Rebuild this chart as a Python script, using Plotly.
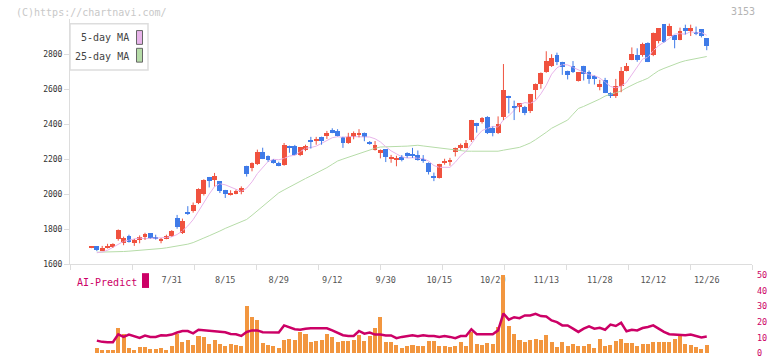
import plotly.graph_objects as go

W, H = 772, 361

# ---------------- data ----------------
tick_labels = ["7/31", "8/15", "8/29", "9/12", "9/30", "10/15", "10/29",
               "11/13", "11/28", "12/12", "12/26"]
tick_index = [15, 25, 35, 45, 55, 65, 75, 85, 95, 105, 115]

opens = [1694, 1701, 1680, 1692, 1696, 1742, 1718, 1763, 1720, 1737,
         1752, 1775, 1756, 1730, 1746, 1763, 1865, 1775, 1899, 1903,
         1951, 2000, 2096, 2079, 2073, 2023, 1996, 2002, 2011, 2161,
         2148, 2169, 2242, 2220, 2197, 2180, 2165, 2276, 2272, 2225,
         2254, 2311, 2305, 2327, 2334, 2366, 2362, 2327, 2290, 2325,
         2342, 2351, 2294, 2254, 2235, 2256, 2203, 2198, 2211, 2233,
         2224, 2225, 2203, 2180, 2101, 2092, 2175, 2186, 2239, 2265,
         2265, 2306, 2406, 2411, 2439, 2377, 2346, 2441, 2558, 2501,
         2496, 2496, 2473, 2592, 2629, 2696, 2729, 2797, 2755, 2704,
         2732, 2648, 2732, 2696, 2676, 2617, 2654, 2580, 2558, 2617,
         2704, 2768, 2795, 2792, 2862, 2797, 2876, 2969, 2905, 2907,
         2882, 2947, 2930, 2924, 2941, 2890]
highs = [1699, 1703, 1705, 1717, 1720, 1799, 1758, 1769, 1745, 1765,
         1780, 1777, 1769, 1750, 1769, 1795, 1882, 1861, 1932, 1953,
         2034, 2086, 2099, 2122, 2075, 2025, 2023, 2026, 2045, 2163,
         2182, 2255, 2266, 2222, 2200, 2186, 2293, 2278, 2282, 2268,
         2283, 2328, 2328, 2329, 2362, 2377, 2372, 2329, 2351, 2359,
         2372, 2353, 2304, 2304, 2256, 2258, 2225, 2220, 2224, 2240,
         2265, 2250, 2224, 2182, 2124, 2174, 2203, 2208, 2267, 2290,
         2310, 2425, 2408, 2441, 2446, 2387, 2445, 2744, 2563, 2535,
         2520, 2505, 2573, 2633, 2696, 2817, 2800, 2809, 2757, 2706,
         2761, 2698, 2734, 2707, 2678, 2654, 2665, 2582, 2659, 2727,
         2750, 2839, 2834, 2866, 2868, 2924, 2949, 2971, 2975, 2909,
         2952, 2969, 2969, 2958, 2943, 2892]
lows = [1692, 1675, 1678, 1690, 1694, 1735, 1709, 1724, 1705, 1720,
        1739, 1747, 1741, 1720, 1743, 1758, 1803, 1773, 1882, 1895,
        1944, 1993, 2039, 2045, 2007, 1979, 1993, 2000, 2000, 2101,
        2131, 2167, 2201, 2186, 2175, 2160, 2163, 2237, 2223, 2218,
        2246, 2261, 2283, 2283, 2316, 2349, 2331, 2265, 2288, 2314,
        2325, 2303, 2283, 2250, 2205, 2184, 2180, 2160, 2188, 2208,
        2208, 2192, 2180, 2113, 2075, 2090, 2169, 2163, 2216, 2254,
        2263, 2299, 2352, 2404, 2344, 2331, 2344, 2424, 2462, 2424,
        2469, 2452, 2464, 2543, 2603, 2694, 2727, 2738, 2682, 2656,
        2693, 2644, 2650, 2631, 2627, 2594, 2578, 2550, 2550, 2583,
        2702, 2766, 2757, 2786, 2755, 2789, 2862, 2866, 2903, 2834,
        2880, 2913, 2904, 2909, 2896, 2823]
closes = [1698, 1680, 1690, 1703, 1717, 1797, 1747, 1726, 1735, 1752,
          1769, 1749, 1743, 1743, 1760, 1788, 1814, 1848, 1887, 1938,
          2028, 2079, 2073, 2101, 2017, 2002, 2007, 2019, 2034, 2113,
          2180, 2242, 2203, 2197, 2180, 2163, 2283, 2266, 2225, 2266,
          2276, 2301, 2309, 2302, 2351, 2351, 2333, 2290, 2327, 2348,
          2346, 2325, 2290, 2278, 2254, 2211, 2208, 2202, 2194, 2220,
          2222, 2194, 2190, 2124, 2092, 2169, 2190, 2197, 2265, 2278,
          2293, 2423, 2391, 2435, 2346, 2346, 2400, 2597, 2549, 2493,
          2518, 2462, 2571, 2631, 2689, 2761, 2778, 2752, 2724, 2678,
          2699, 2696, 2685, 2656, 2656, 2628, 2580, 2558, 2620, 2704,
          2732, 2800, 2766, 2856, 2757, 2918, 2947, 2868, 2961, 2882,
          2930, 2930, 2947, 2916, 2901, 2845]

ma5 = [None, 1666, 1670, 1680, 1697, 1717, 1731, 1738, 1744, 1751,
       1746, 1746, 1750, 1751, 1753, 1757, 1770, 1791, 1819, 1855,
       1903, 1956, 2001, 2044, 2060, 2054, 2040, 2029, 2016, 2035,
       2071, 2118, 2154, 2187, 2200, 2197, 2205, 2218, 2223, 2241,
       2263, 2267, 2275, 2291, 2308, 2323, 2329, 2325, 2330, 2330,
       2329, 2327, 2327, 2317, 2299, 2272, 2248, 2231, 2214, 2207,
       2209, 2206, 2204, 2190, 2164, 2154, 2153, 2154, 2183, 2220,
       2245, 2291, 2330, 2364, 2378, 2388, 2384, 2425, 2448, 2477,
       2511, 2524, 2519, 2535, 2574, 2623, 2686, 2722, 2741, 2739,
       2726, 2710, 2696, 2683, 2678, 2664, 2641, 2616, 2608, 2618,
       2639, 2683, 2725, 2772, 2783, 2820, 2849, 2869, 2890, 2915,
       2918, 2914, 2930, 2921, 2925, 2908]
ma25 = [None, 1669, 1669, 1670, 1670, 1671, 1673, 1675, 1677, 1679,
        1682, 1684, 1687, 1690, 1694, 1699, 1705, 1710, 1715, 1724,
        1735, 1750, 1763, 1775, 1790, 1805, 1818, 1830, 1842, 1856,
        1880, 1905, 1930, 1958, 1985, 2008, 2025, 2042, 2058, 2074,
        2090, 2105, 2120, 2136, 2152, 2171, 2190, 2201, 2212, 2222,
        2233, 2244, 2255, 2263, 2270, 2272, 2274, 2274, 2274, 2275,
        2278, 2280, 2276, 2272, 2268, 2264, 2260, 2255, 2250, 2246,
        2246, 2246, 2246, 2246, 2246, 2246, 2246, 2252, 2258, 2262,
        2268, 2280, 2293, 2312, 2331, 2354, 2377, 2393, 2408, 2424,
        2457, 2490, 2502, 2515, 2527, 2544, 2561, 2571, 2581, 2590,
        2608, 2625, 2638, 2650, 2663, 2685, 2706, 2719, 2731, 2744,
        2754, 2763, 2770, 2776, 2782, 2787]

volume = [None, 3.2, 1.9, 1.9, 1.9, 15.9, 12.1, 3.2, 1.9, 3.8,
          3.8, 2.5, 2.5, 3.2, 1.9, 4.5, 12.1, 7.0, 8.3, 5.1,
          10.8, 10.2, 5.7, 8.3, 5.7, 4.5, 5.7, 5.1, 4.5, 29.9,
          23.1, 21.0, 6.4, 5.1, 4.5, 3.2, 8.3, 8.9, 8.3, 13.4,
          12.1, 7.0, 7.6, 8.3, 12.1, 10.2, 7.0, 7.6, 7.6, 8.3,
          11.5, 7.6, 10.8, 15.9, 22.9, 7.0, 7.0, 5.1, 3.2, 4.5,
          5.1, 4.2, 4.5, 7.6, 7.6, 4.5, 4.5, 3.8, 4.5, 7.0,
          4.5, 13.4, 5.7, 5.1, 6.4, 5.7, 16.6, 50.0, 17.2, 12.1,
          8.3, 7.0, 8.3, 8.9, 8.3, 11.5, 7.0, 3.8, 7.0, 4.5,
          5.7, 4.5, 4.5, 5.7, 3.2, 8.9, 4.5, 5.1, 7.6, 8.9,
          6.4, 6.4, 4.5, 5.7, 5.7, 7.0, 7.0, 7.0, 7.0, 8.9,
          10.8, 5.7, 5.1, 3.8, 2.5, 5.1]
ai_predict = [None, 8.0, 7.2, 7.0, 7.0, 12.1, 10.4, 11.9, 11.0, 9.8,
              11.3, 10.4, 10.4, 11.5, 11.3, 11.9, 13.2, 14.2, 14.2, 12.7,
              15.0, 14.6, 14.6, 14.0, 13.4, 13.4, 12.3, 12.1, 11.0, 13.6,
              14.6, 14.6, 13.4, 13.2, 13.2, 13.2, 17.8, 16.6, 15.3, 15.0,
              15.7, 15.9, 15.9, 15.9, 15.9, 14.6, 13.2, 11.5, 11.0, 11.0,
              14.2, 12.5, 13.2, 11.9, 11.9, 11.3, 11.3, 9.6, 10.4, 10.8,
              11.5, 10.8, 11.5, 11.0, 11.0, 10.4, 11.0, 10.4, 9.6, 11.0,
              11.0, 15.3, 12.1, 12.1, 12.1, 12.1, 14.6, 25.5, 21.5, 23.1,
              22.5, 24.2, 24.2, 25.3, 23.8, 23.6, 21.0, 19.9, 17.8, 17.8,
              15.7, 13.6, 15.7, 17.2, 15.7, 16.3, 15.0, 18.3, 17.4, 19.5,
              14.0, 15.0, 14.6, 16.1, 16.8, 17.8, 15.7, 13.6, 12.1, 11.9,
              11.9, 11.5, 11.9, 11.0, 10.0, 10.6]

price_ticks = [1600, 1800, 2000, 2200, 2400, 2600, 2800]
ai_ticks = [0, 10, 20, 30, 40, 50]

# ---------------- styling ----------------
RED = "#f0523f"
BLUE = "#3f7be8"
MA5_C = "#e8b4ea"
MA25_C = "#b6dca8"
AI_C = "#cc0066"
VOL_C = "#f2963f"
AXIS_C = "#dddddd"
MONO = "DejaVu Sans Mono"


def px(x):
    return x / W


def py(y):
    return 1 - y / H


# pixel geometry of the panels
X_LEFT, X_RIGHT = 70, 752
CANDLE0, STEP = 91.5, 5.35
x_range = [(X_LEFT - CANDLE0) / STEP, (X_RIGHT - CANDLE0) / STEP]
frame_ticks = [x_range[0] + k * (x_range[1] - x_range[0]) / 11 for k in range(12)]

idx = list(range(len(closes)))
up = [i for i in idx if closes[i] >= opens[i]]
dn = [i for i in idx if closes[i] < opens[i]]

fig = go.Figure()


def wick_xy(ids):
    xs, ys = [], []
    for i in ids:
        xs += [i, i, None]
        ys += [lows[i], highs[i], None]
    return xs, ys


fig.add_trace(go.Scatter(x=list(range(len(ma25))), y=ma25, mode="lines",
                         line=dict(color=MA25_C, width=1), xaxis="x", yaxis="y"))
fig.add_trace(go.Scatter(x=list(range(len(ma5))), y=ma5, mode="lines",
                         line=dict(color=MA5_C, width=1), xaxis="x", yaxis="y"))

for ids, col in ((up, RED), (dn, BLUE)):
    wx, wy = wick_xy(ids)
    fig.add_trace(go.Scatter(x=wx, y=wy, mode="lines", line=dict(color=col, width=1),
                             hoverinfo="skip", xaxis="x", yaxis="y"))

fig.add_trace(go.Bar(x=up, y=[closes[i] - opens[i] for i in up], base=[opens[i] for i in up],
                     width=0.9, marker=dict(color=RED, line=dict(width=0)),
                     xaxis="x", yaxis="y"))
fig.add_trace(go.Bar(x=dn, y=[opens[i] - closes[i] for i in dn], base=[closes[i] for i in dn],
                     width=0.9, marker=dict(color=BLUE, line=dict(width=0)),
                     xaxis="x", yaxis="y"))

# empty trace that carries the date-label axis (x3 overlays the price x axis)
fig.add_trace(go.Scatter(x=[tick_index[0]], y=[None], mode="lines", xaxis="x3", yaxis="y",
                         hoverinfo="skip"))

# lower panel
fig.add_trace(go.Bar(x=list(range(len(volume))), y=volume, width=0.75,
                     marker=dict(color=VOL_C, line=dict(width=0)),
                     xaxis="x2", yaxis="y2"))
fig.add_trace(go.Scatter(x=list(range(len(ai_predict))), y=ai_predict, mode="lines",
                         line=dict(color=AI_C, width=2.5), xaxis="x2", yaxis="y2"))

# lower panel geometry: value 0 at y=358, 1.574 px per unit
LOW_TOP, LOW_BOT, LOW_SCALE = 270, 358, 1.574

fig.update_layout(
    width=W, height=H,
    margin=dict(l=0, r=0, t=0, b=0),
    paper_bgcolor="white", plot_bgcolor="white",
    showlegend=False, barmode="overlay", bargap=0,
    font=dict(family=MONO, color="#444444"),
    xaxis=dict(domain=[px(X_LEFT), px(X_RIGHT)], range=x_range, anchor="y",
               showgrid=False, zeroline=False, showline=True, linecolor=AXIS_C,
               linewidth=1, ticks="outside", ticklen=5, tickcolor=AXIS_C,
               tickvals=frame_ticks, showticklabels=False),
    xaxis3=dict(overlaying="x", domain=[px(X_LEFT), px(X_RIGHT)], range=x_range,
                anchor="y", side="bottom", showgrid=False, zeroline=False,
                showline=False, ticks="", tickvals=tick_index, ticktext=tick_labels,
                ticklabelstandoff=9,
                tickfont=dict(family=MONO, size=8.5, color="#555555")),
    yaxis=dict(domain=[py(268), py(19.5)], range=[1600, 3000], anchor="x",
               showgrid=False, zeroline=False, showline=True, linecolor=AXIS_C,
               ticks="outside", ticklen=5, tickcolor=AXIS_C,
               tickvals=price_ticks, ticktext=[str(v) for v in price_ticks],
               tickfont=dict(family=MONO, size=8, color="#333333")),
    xaxis2=dict(domain=[px(X_LEFT), px(X_RIGHT)], range=x_range, anchor="y2",
                showgrid=False, zeroline=False, showline=False,
                ticks="", showticklabels=False),
    yaxis2=dict(domain=[py(LOW_BOT), py(LOW_TOP)],
                range=[0, (LOW_BOT - LOW_TOP) / LOW_SCALE], anchor="x2", side="right",
                showgrid=False, zeroline=False, showline=False, ticks="",
                tickvals=ai_ticks, ticktext=[str(v) for v in ai_ticks],
                ticklabelstandoff=4,
                tickfont=dict(family=MONO, size=8.5, color=AI_C)),
)

shapes = [
    # legend box
    dict(type="rect", xref="paper", yref="paper", x0=px(70), x1=px(148), y0=py(71), y1=py(24),
         line=dict(color=AXIS_C, width=1.5), fillcolor="white", layer="above"),
    dict(type="rect", xref="paper", yref="paper", x0=px(136.5), x1=px(142.5), y0=py(45), y1=py(31),
         line=dict(color="#666666", width=1), fillcolor=MA5_C),
    dict(type="rect", xref="paper", yref="paper", x0=px(136.5), x1=px(142.5), y0=py(63), y1=py(49),
         line=dict(color="#666666", width=1), fillcolor=MA25_C),
    # AI-Predict swatch
    dict(type="rect", xref="paper", yref="paper", x0=px(142), x1=px(149), y0=py(292), y1=py(277),
         line=dict(width=0), fillcolor=AI_C),
]

annotations = [
    dict(text="(C)https://chartnavi.com/", x=px(14), y=py(12.5), xanchor="left", yanchor="middle",
         font=dict(family=MONO, size=10, color="#c8c8c8")),
    dict(text="3153", x=px(757), y=py(12), xanchor="right", yanchor="middle",
         font=dict(family=MONO, size=10, color="#b4b4b4")),
    dict(text="5-day MA", x=px(131), y=py(38), xanchor="right", yanchor="middle",
         font=dict(family=MONO, size=10, color="#444444")),
    dict(text="25-day MA", x=px(131), y=py(57), xanchor="right", yanchor="middle",
         font=dict(family=MONO, size=10, color="#444444")),
    dict(text="AI-Predict", x=px(75), y=py(286), xanchor="left", yanchor="middle",
         font=dict(family=MONO, size=10, color=AI_C)),
]
for a in annotations:
    a.update(xref="paper", yref="paper", showarrow=False)

fig.update_layout(shapes=shapes, annotations=annotations)
fig.write_html(
    "out.html",
    config={"displayModeBar": False},
    post_script="document.body.style.margin='0';document.body.style.padding='0';",
)
